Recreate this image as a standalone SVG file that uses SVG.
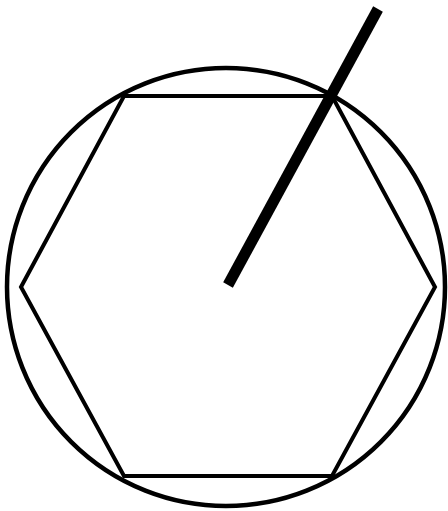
<svg xmlns="http://www.w3.org/2000/svg" width="448" height="511" viewBox="0 0 448 511">
<style>
.s{fill:none;stroke:#000;stroke-width:4}
</style>
<rect width="448" height="511" fill="#fff"/>
<g id="circle"><circle class="s" cx="226" cy="287" r="219" stroke-width="4.5" style="stroke-width:4.5"/></g>
<g id="hexagon"><polygon class="s" stroke-linejoin="miter" points="21,287 124,96 332,96 435,287 332,476 124,476"/></g>
<g id="connectors"><line x1="228" y1="285" x2="378" y2="9" stroke="#000" stroke-width="11"/></g>
</svg>
